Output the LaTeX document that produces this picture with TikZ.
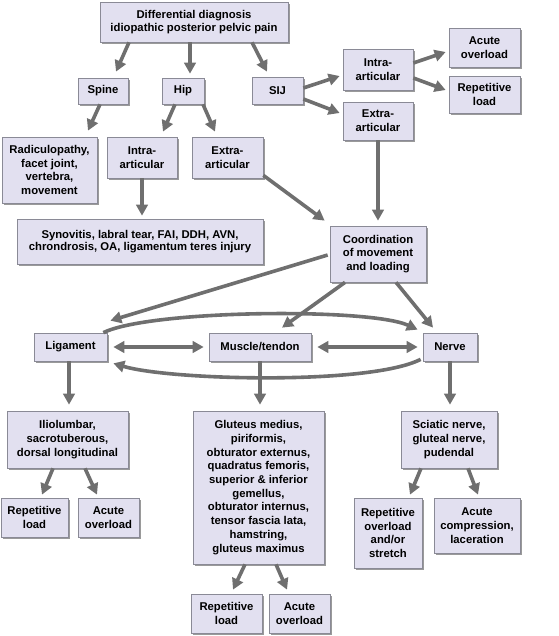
\documentclass[tikz,border=0pt]{standalone}
\usepackage{fontspec}
\setmainfont{Liberation Sans}
\usetikzlibrary{arrows.meta,shadows}
\definecolor{boxfill}{HTML}{E2E0F0}
\definecolor{boxline}{HTML}{8A8A96}
\definecolor{arr}{HTML}{6F6F6F}
\definecolor{shad}{HTML}{9A9A9A}
\tikzset{
  x=1pt, y=-1pt,
  bx/.style={draw=boxline, line width=0.7pt, fill=boxfill, align=center,
    font=\fontsize{11.3}{13.7}\selectfont\bfseries, inner sep=0pt,
    general shadow={fill=shad, shadow xshift=2.4pt, shadow yshift=-2.4pt}},
  tight/.style={font=\fontsize{11.3}{12.6}\selectfont\bfseries},
  ar/.style={draw=arr, line width=3.6pt, -{Triangle[length=11pt,width=11.5pt]}},
  dar/.style={draw=arr, line width=3.6pt, {Triangle[length=11pt,width=11.5pt]}-{Triangle[length=11pt,width=11.5pt]}},
  gapmask/.style={draw=white, line width=9pt},
}
\begin{document}
\begin{tikzpicture}
\useasboundingbox (0,0) rectangle (558,636);
% boxes
\node[bx,tight,minimum width=188pt,minimum height=40pt] (top) at (194,22) {Differential diagnosis\\idiopathic posterior pelvic pain};
\node[bx,minimum width=50pt,minimum height=26pt] (spine) at (103,91) {Spine};
\node[bx,minimum width=42pt,minimum height=26pt] (hip) at (183,91) {Hip};
\node[bx,minimum width=51pt,minimum height=27pt] (sij) at (277.5,90.5) {SIJ};
\node[bx,minimum width=70pt,minimum height=41pt] (sijintra) at (378,69.5) {Intra-\\articular};
\node[bx,minimum width=71pt,minimum height=39pt] (acute1) at (484.5,47.5) {Acute\\overload};
\node[bx,minimum width=71pt,minimum height=37pt] (rep1) at (484.5,94.5) {Repetitive\\load};
\node[bx,minimum width=70pt,minimum height=38pt] (sijextra) at (378,121) {Extra-\\articular};
\node[bx,minimum width=95pt,minimum height=66pt] (radic) at (49.5,170) {Radiculopathy,\\facet joint,\\vertebra,\\movement};
\node[bx,minimum width=70pt,minimum height=41pt] (hipintra) at (142,157.5) {Intra-\\articular};
\node[bx,minimum width=71pt,minimum height=41pt] (hipextra) at (227.5,157.5) {Extra-\\articular};
\node[bx,tight,minimum width=246pt,minimum height=45pt] (syn) at (140,241.5) {Synovitis, labral tear, FAI, DDH, AVN,\\chrondrosis, OA, ligamentum teres injury};
\node[bx,minimum width=96pt,minimum height=56pt] (coord) at (378,254) {Coordination\\of movement\\and loading};
\node[bx,minimum width=73pt,minimum height=28pt] (lig) at (70.5,347) {Ligament};
\node[bx,minimum width=102pt,minimum height=28pt] (mus) at (260,347) {Muscle/tendon};
\node[bx,minimum width=54pt,minimum height=28pt] (nerve) at (450,347) {Nerve};
\node[bx,minimum width=121pt,minimum height=57pt] (ilio) at (67.5,439.5) {Iliolumbar,\\sacrotuberous,\\dorsal longitudinal};
\node[bx,minimum width=131pt,minimum height=153pt] (glut) at (258.5,487.5) {Gluteus medius,\\piriformis,\\obturator externus,\\quadratus femoris,\\superior \& inferior\\gemellus,\\obturator internus,\\tensor fascia lata,\\hamstring,\\gluteus maximus};
\node[bx,minimum width=96pt,minimum height=57pt] (sci) at (449,439.5) {Sciatic nerve,\\gluteal nerve,\\pudendal};
\node[bx,minimum width=67pt,minimum height=39pt] (lrep) at (34.5,517.5) {Repetitive\\load};
\node[bx,minimum width=61pt,minimum height=39pt] (lacu) at (108.5,517.5) {Acute\\overload};
\node[bx,minimum width=71pt,minimum height=39pt] (mrep) at (226.5,613.5) {Repetitive\\load};
\node[bx,minimum width=61pt,minimum height=39pt] (macu) at (299.5,613.5) {Acute\\overload};
\node[bx,minimum width=68pt,minimum height=70pt] (nrep) at (388,533) {Repetitive\\overload\\and/or\\stretch};
\node[bx,minimum width=86pt,minimum height=55pt] (nacu) at (477,525.5) {Acute\\compression,\\laceration};
% arrows
\draw[ar] ([xshift=-65pt]top.south) -- ([xshift=13pt,yshift=6pt]spine.north);
\draw[ar] ([xshift=-4pt]top.south) -- ([xshift=7pt,yshift=4pt]hip.north);
\draw[ar] ([xshift=58pt]top.south) -- ([xshift=-10.5pt,yshift=5pt]sij.north);
\draw[ar] ([yshift=2.5pt]sij.east) -- ([xshift=-3pt,yshift=-6.5pt]sijintra.west);
\draw[ar] ([yshift=-8.5pt]sij.east) -- ([xshift=-3pt,yshift=8pt]sijextra.west);
\draw[ar] ([yshift=6.5pt]sijintra.east) -- ([xshift=-3pt,yshift=-4.5pt]acute1.west);
\draw[ar] ([yshift=-8.5pt]sijintra.east) -- ([xshift=-3pt,yshift=4.5pt]rep1.west);
\draw[ar] ([xshift=-3pt]spine.south) -- ([xshift=38.5pt,yshift=6pt]radic.north);
\draw[ar] ([xshift=-8pt]hip.south) -- ([xshift=21pt,yshift=5pt]hipintra.north);
\draw[ar] ([xshift=20pt]hip.south) -- ([xshift=-12.5pt,yshift=5pt]hipextra.north);
\draw[ar] (hipintra.south) -- ([xshift=2pt,yshift=3pt]syn.north);
\draw[ar] ([yshift=3pt]hipextra.south east) -- ([xshift=-5pt,yshift=5pt]coord.north west);
\draw[ar] (sijextra.south) -- ([yshift=5pt]coord.north);
\draw[ar] ([xshift=-2pt,yshift=-1pt]coord.west) -- ([xshift=3pt,yshift=12pt]lig.north east);
\draw[ar] ([xshift=-33pt]coord.south) -- ([xshift=22pt,yshift=5pt]mus.north);
\draw[ar] ([xshift=18pt]coord.south) -- ([xshift=-17pt,yshift=5pt]nerve.north);
\draw[dar] ([xshift=6pt]lig.east) -- ([xshift=-5pt]mus.west);
\draw[dar] ([xshift=6pt]mus.east) -- ([xshift=-5pt]nerve.west);
\draw[ar] ([xshift=-4pt]lig.north east) .. controls +(47,-23) and +(-48,-22) .. ([xshift=-5pt,yshift=3pt]nerve.north west);
\draw[ar] ([xshift=-2pt,yshift=2pt]nerve.south west) .. controls +(-51,26) and +(57,17) .. ([xshift=6pt,yshift=-2pt]lig.south east);
\draw[gapmask] ([yshift=-22pt]mus.south) -- ([yshift=-36pt]mus.south);
\draw[ar] ([xshift=-1.5pt]lig.south) -- ([xshift=1.5pt,yshift=6pt]ilio.north);
\draw[ar] ([xshift=-14.5pt]ilio.south) -- ([xshift=7.5pt,yshift=3pt]lrep.north);
\draw[ar] ([xshift=17.5pt]ilio.south) -- ([xshift=-11.5pt,yshift=3pt]lacu.north);
\draw[ar] (mus.south) -- ([xshift=1.5pt,yshift=6pt]glut.north);
\draw[ar] ([xshift=-13.5pt]glut.south) -- ([xshift=6.5pt,yshift=4pt]mrep.north);
\draw[ar] ([xshift=17.5pt]glut.south) -- ([xshift=-12.5pt,yshift=4pt]macu.north);
\draw[ar] (nerve.south) -- ([xshift=1pt,yshift=6pt]sci.north);
\draw[ar] ([xshift=-28pt]sci.south) -- ([xshift=22pt,yshift=3pt]nrep.north);
\draw[ar] ([xshift=19pt]sci.south) -- ([xshift=1pt,yshift=3pt]nacu.north);
\end{tikzpicture}
\end{document}
